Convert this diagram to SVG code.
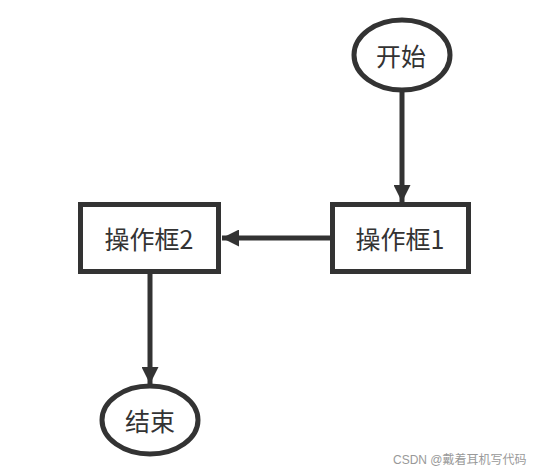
<svg xmlns="http://www.w3.org/2000/svg" width="546" height="474" viewBox="0 0 546 474">
<style>
.shape{fill:#fff;stroke:#333;stroke-width:5}
.lbl{font-family:"Noto Sans CJK SC","Liberation Sans",sans-serif;font-size:25px;fill:#333;text-anchor:middle;dominant-baseline:central}
.edge{stroke:#333;stroke-width:5;fill:none}
.wm{font-family:"Liberation Sans","Noto Sans CJK SC",sans-serif;font-size:12px;fill:#999}
</style>
<defs>
<marker id="arr" viewBox="0 0 10 10" refX="10" refY="5" markerWidth="3.4" markerHeight="3.4" markerUnits="strokeWidth" orient="auto">
<path d="M0,0 L10,5 L0,10 Z" fill="#333"/>
</marker>
</defs>
<rect width="546" height="474" fill="#fff"/>
<g id="connectors">
<line class="edge" x1="402" y1="92" x2="402" y2="202" marker-end="url(#arr)"/>
<line class="edge" x1="331" y1="238" x2="222" y2="238" marker-end="url(#arr)"/>
<line class="edge" x1="150" y1="274" x2="150" y2="384" marker-end="url(#arr)"/>
</g>
<g id="start">
<ellipse class="shape" cx="402" cy="55" rx="48" ry="35"/>
<text class="lbl" x="401" y="55">开始</text>
</g>
<g id="op1">
<rect class="shape" x="332.5" y="204.5" width="136" height="67"/>
<text class="lbl" x="400" y="238">操作框1</text>
</g>
<g id="op2">
<rect class="shape" x="80.5" y="204.5" width="138" height="67"/>
<text class="lbl" x="149" y="238">操作框2</text>
</g>
<g id="end">
<ellipse class="shape" cx="150" cy="420" rx="48" ry="34"/>
<text class="lbl" x="150" y="420">结束</text>
</g>
<text class="wm" x="393" y="464">CSDN @戴着耳机写代码</text>
</svg>
